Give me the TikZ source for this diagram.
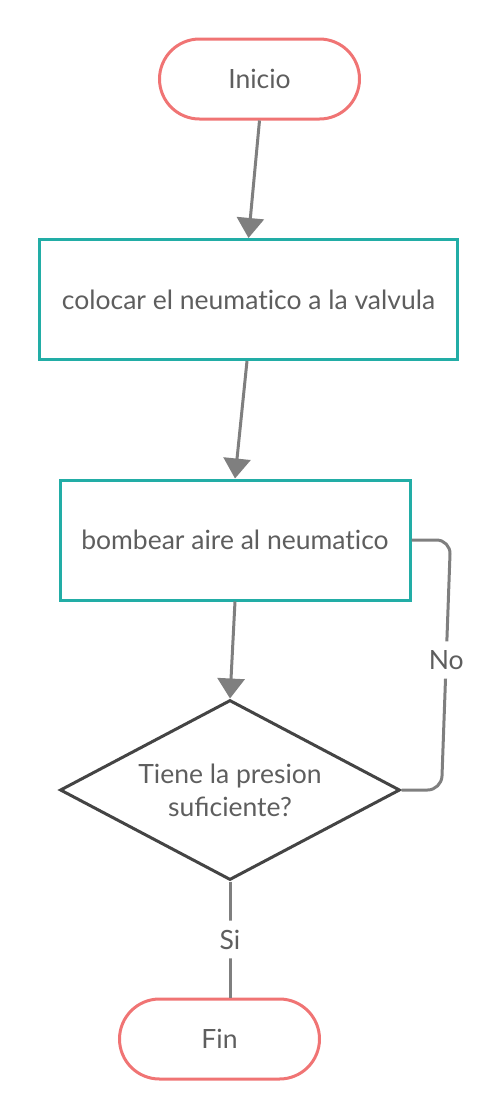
\documentclass[tikz,border=0pt]{standalone}
\usepackage{fontspec}
\setmainfont{Lato}
\usetikzlibrary{shapes,positioning,arrows.meta}
\definecolor{termred}{HTML}{F07474}
\definecolor{procteal}{HTML}{22ADA6}
\definecolor{decgray}{HTML}{444444}
\definecolor{linegray}{HTML}{7F7F7F}
\definecolor{txtgray}{HTML}{5E5E5E}

\begin{document}
\begin{tikzpicture}[
    x=1pt,y=1pt,
    every node/.style={text=txtgray,font=\fontsize{26.5}{33}\selectfont},
    term/.style={rectangle,rounded corners=40pt,draw=termred,line width=3pt,minimum width=200pt,minimum height=80pt},
    proc/.style={rectangle,draw=procteal,line width=3pt,minimum height=120pt},
    dec/.style={diamond,draw=decgray,line width=3pt,inner sep=0pt,minimum width=340pt,minimum height=180pt},
    arr/.style={draw=linegray,line width=3pt,-{Triangle[length=20pt,width=27pt]}},
    conn/.style={draw=linegray,line width=3pt,rounded corners=14pt},
    lbl/.style={fill=white,inner sep=9pt}
    ]
        \useasboundingbox (0,0) rectangle (498,-1120);
        \node [term](inicio) at (259.5,-79) {Inicio};
        \node [proc,minimum width=418pt](colocar) at (248.5,-299.5) {colocar el neumat\hbox{}ico a la valvula};
        \node [proc,minimum width=350pt](bombear) at (235,-540) {bombear aire al neumat\hbox{}ico};
        \node [dec,label={[align=center]center:Tiene la presion\\suficiente?}](presion) at (230,-790) {};
        \node [term](fin) at (219.5,-1039) {Fin};

        \draw [arr] (inicio.south) -- (colocar.north);
        \draw [arr] ([xshift=-1.5pt]colocar.south) -- (bombear.north);
        \draw [arr] (bombear.south) -- (presion.north);

        \draw [conn] (presion.south) -- node[lbl]{Si} (presion.south |- fin.north);
        \draw [conn] (presion.east) -- ([xshift=40pt]presion.east)
            -- node[lbl,pos=0.52]{No} ([xshift=39pt]bombear.east) -- (bombear.east);
\end{tikzpicture}
\end{document}
